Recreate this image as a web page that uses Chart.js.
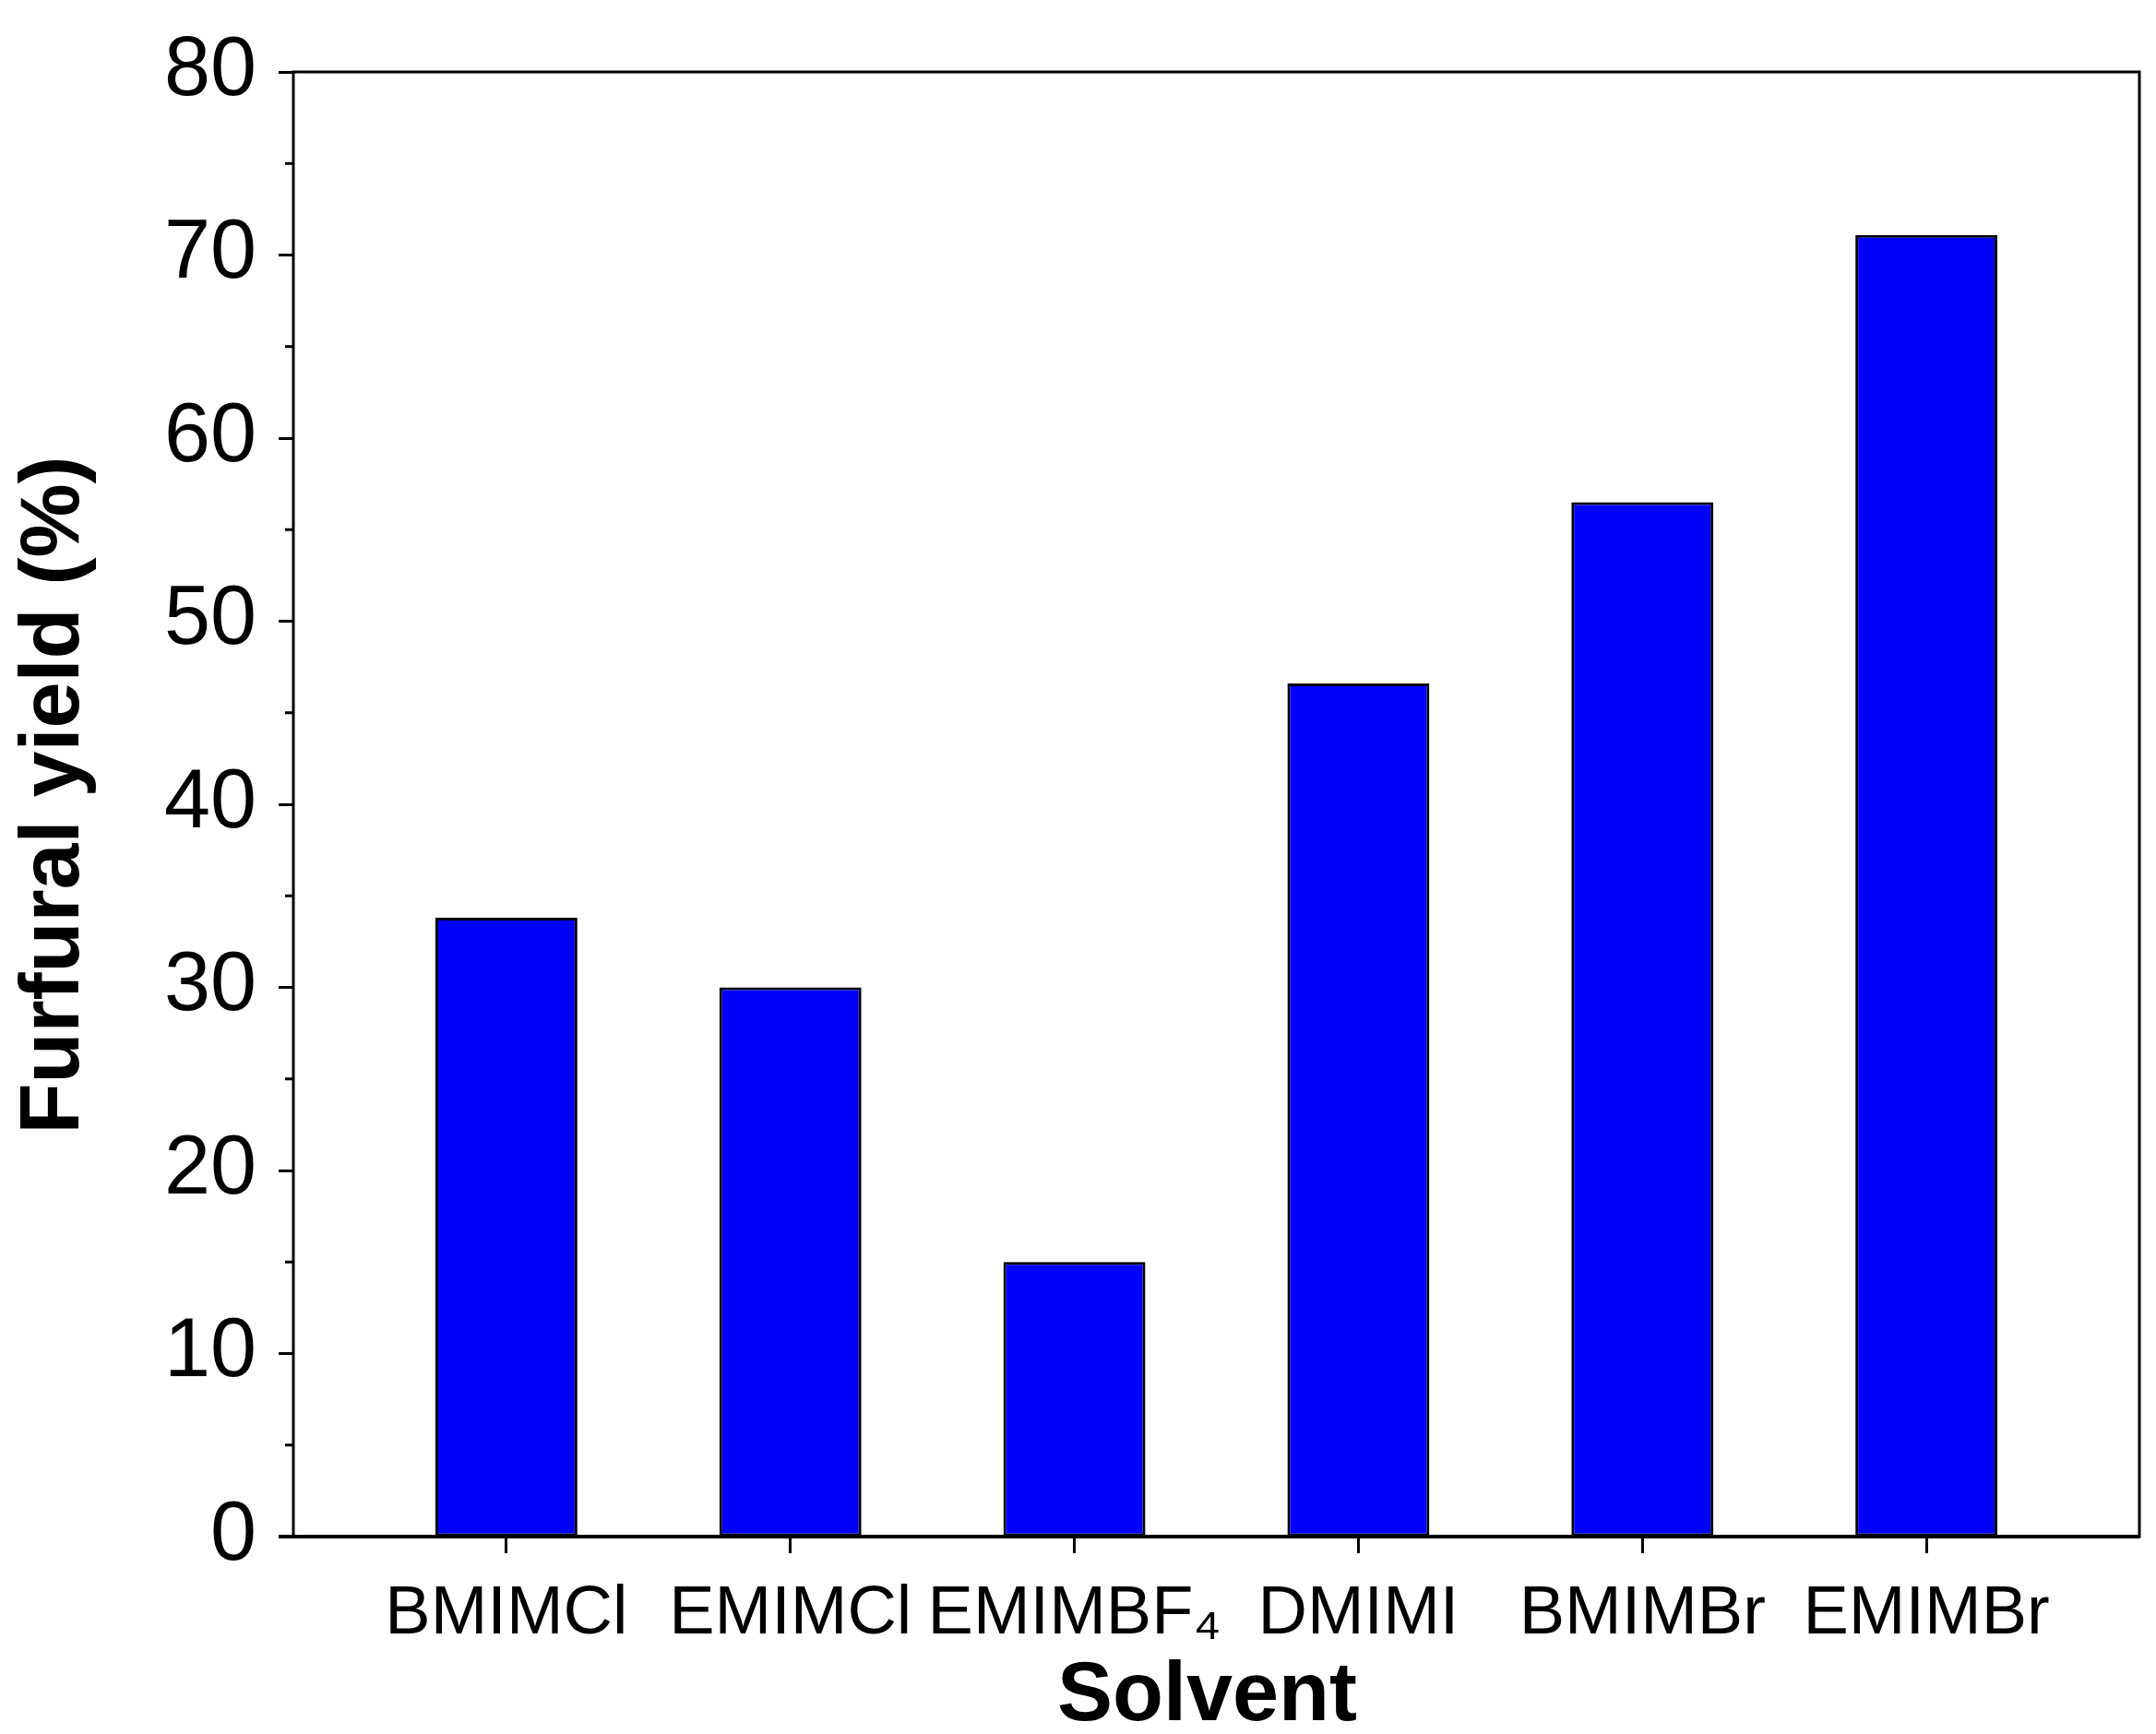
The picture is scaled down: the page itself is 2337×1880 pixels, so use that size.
<!DOCTYPE html>
<html><head><meta charset="utf-8">
<script src="https://cdn.jsdelivr.net/npm/chart.js@4"></script>
<style>html,body{margin:0;padding:0;background:#fff}#w{width:2337px;height:1880px}</style>
</head><body><div id="w"><canvas id="c"></canvas></div>
<script>
const categories = ["BMIMCl","EMIMCl","EMIMBF₄","DMIMI","BMIMBr","EMIMBr"];
const yieldValues = [33.8, 30.0, 15.0, 46.6, 56.5, 71.1];
const yTicks = [0,10,20,30,40,50,60,70,80];
const xTitle = "Solvent";
const yTitle = "Furfural yield (%)";

const F = "'Liberation Sans', Arial, sans-serif";
const pts = yieldValues.map((v,i)=>({x:i+1,y:v}));

const deco = {
  id:'deco',
  afterDraw(ch){
    const c=ch.ctx, a=ch.chartArea, ys=ch.scales.y;
    c.save();
    c.strokeStyle='#000'; c.lineWidth=3;
    for(let v=5; v<80; v+=10){
      const p=ys.getPixelForValue(v);
      c.beginPath(); c.moveTo(a.left-9,p); c.lineTo(a.left,p); c.stroke();
    }
    c.strokeRect(a.left,a.top,a.right-a.left,a.bottom-a.top);
    c.lineWidth=4;
    c.beginPath(); c.moveTo(a.left-16,a.bottom); c.lineTo(a.right,a.bottom); c.stroke();
    c.fillStyle='#000';
    c.font="bold 90px "+F; c.textAlign='center'; c.textBaseline='middle';
    c.fillText(xTitle,(a.left+a.right)/2-10,1840);
    c.translate(60,(a.top+a.bottom)/2-10); c.rotate(-Math.PI/2);
    c.fillText(yTitle,0,0);
    c.restore();
  }
};

new Chart(document.getElementById('c'),{
  type:'bar',
  data:{datasets:[{data:pts,backgroundColor:'#0000ff',borderColor:'#000',borderWidth:3,borderSkipped:false,barPercentage:0.5,categoryPercentage:1}]},
  options:{
    responsive:true,maintainAspectRatio:false,animation:false,
    layout:{padding:{top:52,right:18}},
    plugins:{legend:{display:false},tooltip:{enabled:false}},
    scales:{
      x:{type:'linear',min:0.25,max:6.75,offset:false,
        afterFit(s){s.height=214;},
        afterBuildTicks(s){s.ticks=categories.map((_,i)=>({value:i+1}));},
        grid:{offset:false,drawOnChartArea:false,drawTicks:true,tickLength:18,tickWidth:3,color:'#000'},
        border:{display:false},
        ticks:{color:'#000',font:{family:F,size:74},padding:22,maxRotation:0,autoSkip:false,callback:(v)=>categories[v-1]||''}},
      y:{min:0,max:80,
        afterFit(s){s.width=318;},
        afterBuildTicks(s){s.ticks=yTicks.map(v=>({value:v}));},
        grid:{drawOnChartArea:false,drawTicks:true,tickLength:16,tickWidth:3,color:'#000'},
        border:{display:false},
        ticks:{color:'#000',font:{family:F,size:90},padding:24}}
    }
  },
  plugins:[deco]
});
</script></body></html>
